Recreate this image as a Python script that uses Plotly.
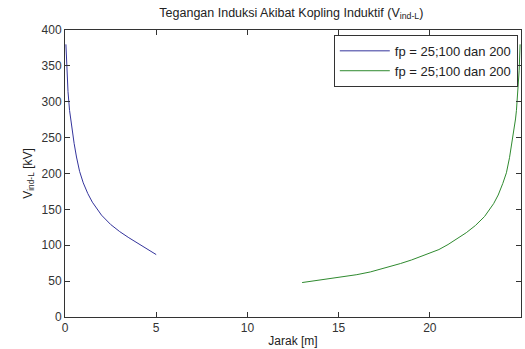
import plotly.graph_objects as go

# Blue series: distance [m] and induced voltage [kV]
blue_jarak = [0.05, 0.1, 0.165, 0.25, 0.3, 0.4, 0.5, 0.63, 0.8, 1.0, 1.25, 1.5,
              2.0, 2.5, 3.0, 3.5, 4.0, 4.5, 5.0]
blue_v = [380, 345, 314, 288, 277, 258, 242, 223, 203, 187, 172, 160,
          142, 129, 119, 110.5, 102.5, 95, 87]

# Green series
green_jarak = [13.0, 14.0, 15.0, 16.0, 16.74, 17.0, 18.0, 18.39, 19.0, 19.5, 20.0,
               20.5, 21.0, 21.5, 22.0, 22.5, 23.0, 23.5, 23.75, 24.0, 24.2,
               24.37, 24.5, 24.6, 24.7, 24.75, 24.835, 24.9, 24.95]
green_v = [48, 51.5, 55, 59, 62.8, 64.5, 71.5, 74.5, 79.5, 84, 88.5,
           94, 101, 109, 117.5, 127.5, 140, 158, 170, 186, 201,
           222, 241, 257, 276, 288, 314, 344, 380]

legend_labels = ["fp = 25;100 dan 200", "fp = 25;100 dan 200"]

FONT = "Liberation Sans, Arial"

fig = go.Figure()
fig.add_trace(go.Scatter(x=blue_jarak, y=blue_v, mode="lines", name=legend_labels[0],
                         line=dict(color="#34349c", width=1)))
fig.add_trace(go.Scatter(x=green_jarak, y=green_v, mode="lines", name=legend_labels[1],
                         line=dict(color="#2f8a2f", width=1)))

axis_common = dict(showline=True, linecolor="#333333", linewidth=1, mirror="ticks",
                   ticks="inside", ticklen=5, tickcolor="#333333", showgrid=False,
                   zeroline=False, tickfont=dict(family=FONT, size=12, color="#333333"))

fig.update_layout(
    width=525, height=349,
    margin=dict(l=65, r=4, t=30, b=32),
    paper_bgcolor="white", plot_bgcolor="white",
    title=dict(text="Tegangan Induksi Akibat Kopling Induktif (V<sub>ind-L</sub>)",
               x=0.555, xanchor="center", y=0.965, yanchor="middle",
               font=dict(family=FONT, size=12.5, color="#222222")),
    xaxis=dict(range=[0, 25], dtick=5, **axis_common,
               title=dict(text="Jarak [m]", standoff=2,
                          font=dict(family=FONT, size=12, color="#222222"))),
    yaxis=dict(range=[0, 400], dtick=50, **axis_common,
               title=dict(text="V<sub>ind-L</sub> [kV]", standoff=6,
                          font=dict(family=FONT, size=12, color="#222222"))),
    legend=dict(x=0.993, y=0.983, xanchor="right", yanchor="top",
                bordercolor="#333333", borderwidth=1, bgcolor="white",
                font=dict(family=FONT, size=13, color="#222222"),
                itemwidth=50, tracegroupgap=0),
    showlegend=True,
)

fig.write_html("out.html")
